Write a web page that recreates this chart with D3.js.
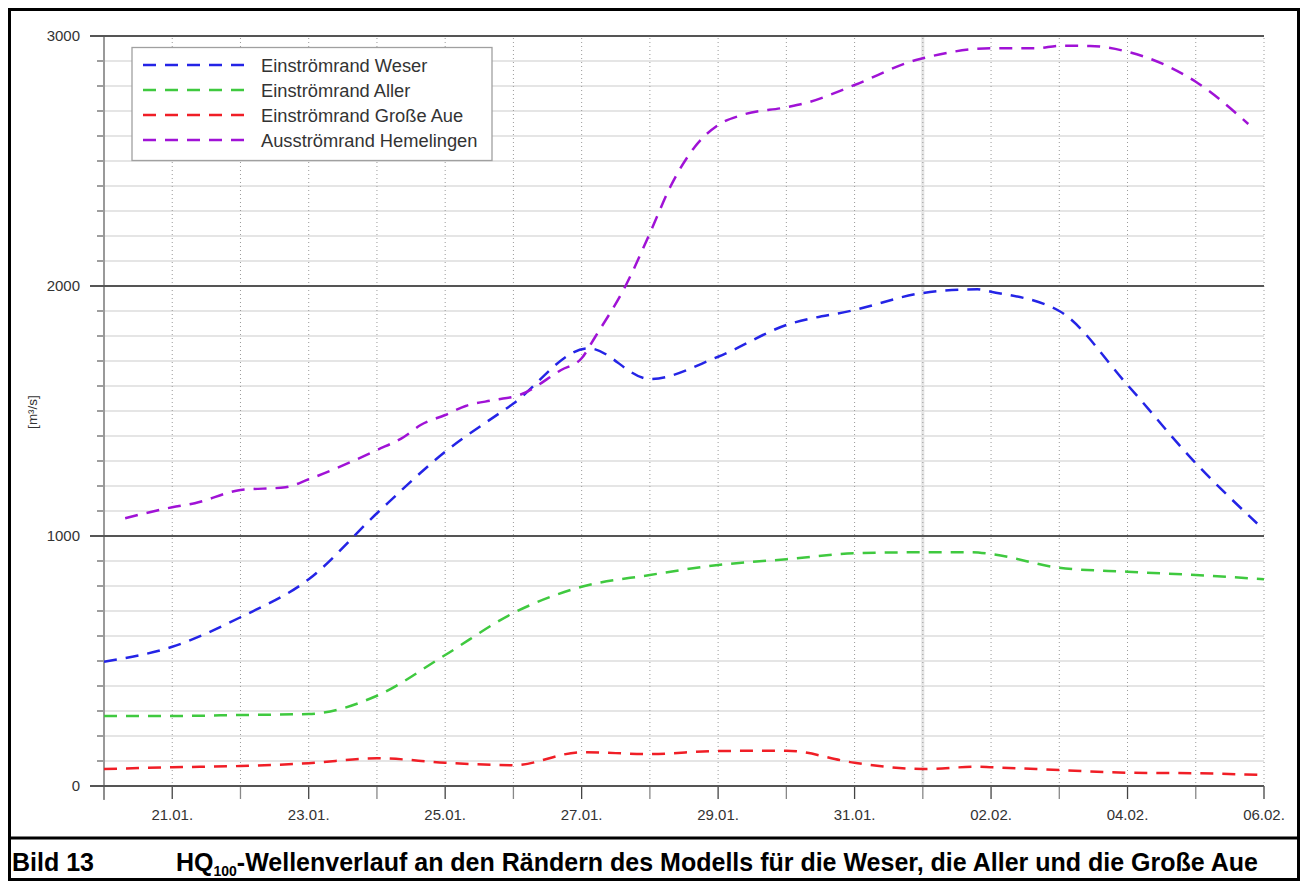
<!DOCTYPE html>
<html>
<head>
<meta charset="utf-8">
<script src="https://cdn.jsdelivr.net/npm/d3@7"></script>
<style>
  body { margin: 0; background: #fff; }
  svg { display: block; font-family: "Liberation Sans", Arial, sans-serif; }
</style>
</head>
<body>
<div id="chart"></div>
<script>
// days after 20.01. and discharge in m³/s
const weserDays = [0, 1, 2, 3, 4, 5, 6, 7.1, 8, 9, 10, 11, 12, 12.8, 13, 14, 15, 16, 16.9];
const weserQ = [497, 557, 675, 827, 1091, 1337, 1530, 1751, 1628, 1717, 1844, 1904, 1972, 1987, 1977, 1900, 1604, 1291, 1050];

const allerDays = [0, 1, 2, 3, 4, 5, 6, 7, 8, 9, 10, 11, 12, 12.7, 13, 14, 15, 16, 17];
const allerQ = [280, 280, 284, 288, 361, 524, 692, 797, 844, 884, 907, 931, 935, 935, 928, 873, 857, 844, 827];

const aueDays = [0, 1, 2, 3, 4, 5, 6, 7, 8, 9, 10, 11, 12, 12.8, 13, 14, 15, 16, 17];
const aueQ = [68, 75, 80, 91, 111, 93, 83, 135, 128, 140, 141, 93, 68, 77, 75, 64, 53, 51, 44];

const hemelDays = [0.31, 1, 1.33, 2, 2.66, 3, 4, 4.4, 4.64, 5, 5.3, 5.72, 6.09, 6.7, 7, 7.2, 7.65, 8, 8.3, 8.66,
  9, 9.35, 10, 10.3, 11, 11.9, 12, 13, 13.67, 14, 14.45, 15, 16, 16.77];
const hemelQ = [1071, 1115, 1131, 1184, 1195, 1227, 1344, 1397, 1444, 1484, 1520, 1544, 1564, 1664, 1711, 1797, 2004, 2211, 2397, 2557,
  2644, 2684, 2715, 2733, 2804, 2904, 2911, 2951, 2951, 2961, 2960, 2937, 2817, 2648];

const seriesNames = ['Einströmrand Weser', 'Einströmrand Aller', 'Einströmrand Große Aue', 'Ausströmrand Hemelingen'];
const seriesColors = ['#2424e6', '#3fc93f', '#f01e26', '#a012d6'];

const tickDays = [1, 3, 5, 7, 9, 11, 13, 15, 17];
const tickLabels = ['21.01.', '23.01.', '25.01.', '27.01.', '29.01.', '31.01.', '02.02.', '04.02.', '06.02.'];
const yMajor = [0, 1000, 2000, 3000];

const width = 1306, height = 886;
const svg = d3.select('#chart').append('svg')
  .attr('width', width)
  .attr('height', height);

const x = d3.scaleLinear().domain([0, 17]).range([104, 1264]);
const y = d3.scaleLinear().domain([0, 3000]).range([786, 36]);

// minor horizontal grid every 100
const g = svg.append('g');
g.selectAll('.hgrid')
  .data(d3.range(100, 3000, 100).filter(v => v % 1000 !== 0))
  .enter().append('line')
  .attr('x1', 97).attr('x2', x(17))
  .attr('y1', d => y(d)).attr('y2', d => y(d))
  .attr('stroke', '#dcdcdc')
  .attr('stroke-width', 1.3);

// short minor ticks left of axis
g.selectAll('.ytick')
  .data(d3.range(100, 3000, 100).filter(v => v % 1000 !== 0))
  .enter().append('line')
  .attr('x1', 97).attr('x2', 104)
  .attr('y1', d => y(d)).attr('y2', d => y(d))
  .attr('stroke', '#777')
  .attr('stroke-width', 1.3);

// month change 01.02.
g.append('line')
  .attr('x1', x(12)).attr('x2', x(12))
  .attr('y1', y(3000)).attr('y2', y(0))
  .attr('stroke', '#e4e4e4')
  .attr('stroke-width', 3);

// dotted vertical grid every day
g.selectAll('.vgrid')
  .data(d3.range(1, 18))
  .enter().append('line')
  .attr('x1', d => x(d)).attr('x2', d => x(d))
  .attr('y1', y(3000) + 2).attr('y2', y(0))
  .attr('stroke', '#9a9a9a')
  .attr('stroke-width', 1)
  .attr('stroke-dasharray', '1,3');

// left axis line
g.append('line')
  .attr('x1', x(0)).attr('x2', x(0))
  .attr('y1', y(3000)).attr('y2', y(0) + 14)
  .attr('stroke', '#999')
  .attr('stroke-width', 2);

// x ticks
g.selectAll('.xtick')
  .data(d3.range(0, 18))
  .enter().append('line')
  .attr('x1', d => x(d)).attr('x2', d => x(d))
  .attr('y1', y(0)).attr('y2', y(0) + 13)
  .attr('stroke', d => tickDays.includes(d) ? '#444' : '#888')
  .attr('stroke-width', 1.3);

// major lines
g.selectAll('.major')
  .data(yMajor)
  .enter().append('line')
  .attr('x1', 90).attr('x2', x(17))
  .attr('y1', d => y(d)).attr('y2', d => y(d))
  .attr('stroke', '#555')
  .attr('stroke-width', 2);

g.selectAll('.ylab')
  .data(yMajor)
  .enter().append('text')
  .attr('x', 80)
  .attr('y', d => y(d) + 5)
  .attr('text-anchor', 'end')
  .attr('fill', '#333')
  .style('font-size', '15px')
  .text(d => d);

g.selectAll('.xlab')
  .data(tickDays)
  .enter().append('text')
  .attr('x', d => x(d))
  .attr('y', 820)
  .attr('text-anchor', 'middle')
  .attr('fill', '#333')
  .style('font-size', '15px')
  .text((d, i) => tickLabels[i]);

svg.append('text')
  .attr('transform', 'translate(37,412) rotate(-90)')
  .attr('text-anchor', 'middle')
  .attr('fill', '#333')
  .style('font-size', '13.5px')
  .text('[m³/s]');

// lines
const line = d3.line()
  .x(d => x(d[0]))
  .y(d => y(d[1]))
  .curve(d3.curveMonotoneX);

const series = [
  d3.zip(weserDays, weserQ),
  d3.zip(allerDays, allerQ),
  d3.zip(aueDays, aueQ),
  d3.zip(hemelDays, hemelQ)
];

svg.append('g').selectAll('path')
  .data(series)
  .enter().append('path')
  .attr('d', d => line(d))
  .attr('fill', 'none')
  .attr('stroke', (d, i) => seriesColors[i])
  .attr('stroke-width', 2.5)
  .attr('stroke-dasharray', '13,9');

// legend
const leg = svg.append('g');
leg.append('rect')
  .attr('x', 132).attr('y', 47.5)
  .attr('width', 360).attr('height', 113)
  .attr('fill', '#fff')
  .attr('stroke', '#a0a0a0')
  .attr('stroke-width', 1.3);

seriesNames.forEach((name, i) => {
  const ly = 65 + i * 25;
  leg.append('line')
    .attr('x1', 143).attr('x2', 245)
    .attr('y1', ly).attr('y2', ly)
    .attr('stroke', seriesColors[i])
    .attr('stroke-width', 2.5)
    .attr('stroke-dasharray', '13,9');
  leg.append('text')
    .attr('x', 261).attr('y', ly + 6.5)
    .attr('fill', '#333')
    .style('font-size', '18.3px')
    .text(name);
});

// frame and caption
svg.append('rect')
  .attr('x', 9.5).attr('y', 9.5)
  .attr('width', 1289).attr('height', 870)
  .attr('fill', 'none')
  .attr('stroke', '#000')
  .attr('stroke-width', 3);

svg.append('line')
  .attr('x1', 8).attr('x2', 1300)
  .attr('y1', 838).attr('y2', 838)
  .attr('stroke', '#000')
  .attr('stroke-width', 3);

svg.append('text')
  .attr('x', 12).attr('y', 871)
  .style('font-size', '25px')
  .style('font-weight', 'bold')
  .text('Bild 13');

const cap = svg.append('text')
  .attr('x', 176).attr('y', 871)
  .style('font-size', '25px')
  .style('font-weight', 'bold');
cap.append('tspan').text('HQ');
cap.append('tspan').attr('dy', 5).style('font-size', '14px').text('100');
cap.append('tspan').attr('dy', -5).text('-Wellenverlauf an den Rändern des Modells für die Weser, die Aller und die Große Aue');
</script>
</body>
</html>
